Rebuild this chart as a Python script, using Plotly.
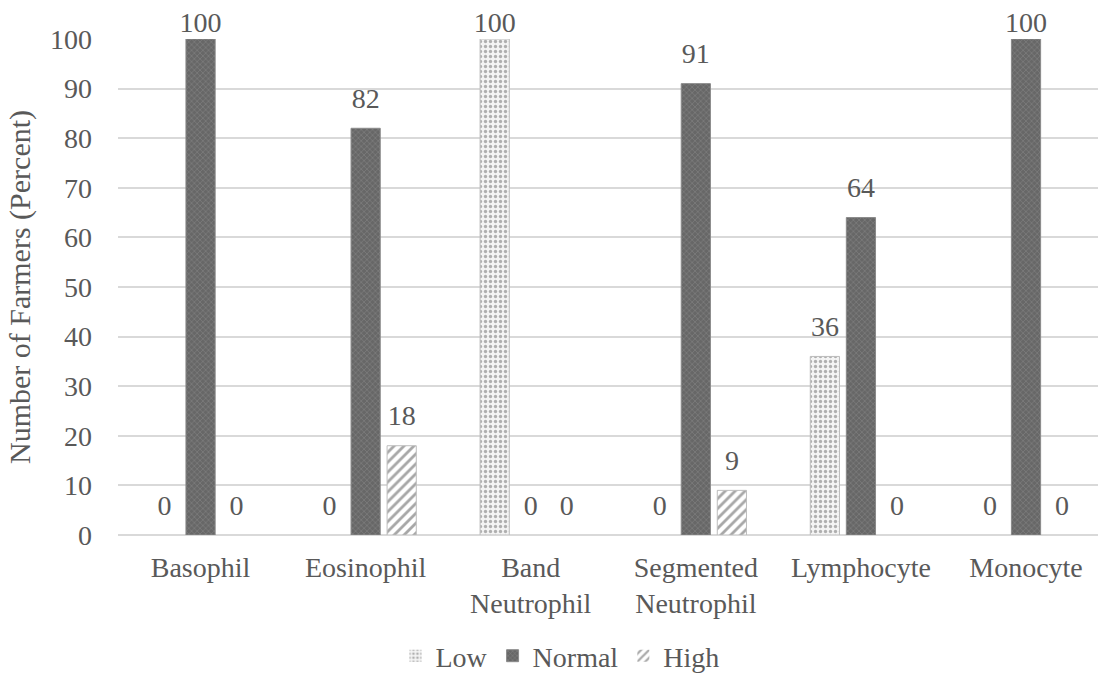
import plotly.graph_objects as go

categories = ["Basophil", "Eosinophil", "Band<br>Neutrophil", "Segmented<br>Neutrophil", "Lymphocyte", "Monocyte"]
low = [0, 0, 100, 0, 36, 0]
normal = [100, 82, 0, 91, 64, 100]
high = [0, 18, 0, 9, 0, 0]
y_ticks = list(range(0, 101, 10))

font_family = "Liberation Serif, Times New Roman, serif"
text_color = "#595959"
font_size = 28
y_max = 100


def edge_widths(values, w=1):
    # no outline on empty bars
    return [w if v > 0 else 0 for v in values]


def label_pad(values):
    # labels at the top of the axis sit tight against the bar
    return [0 if v >= y_max else 20 for v in values]


series = [
    ("Low", low, dict(color="white", line=dict(color="#bdbdbd", width=edge_widths(low)),
                      pattern=dict(shape=".", fgcolor="#6a6a6a", bgcolor="#f4f4f4", size=5, solidity=0.35))),
    ("Normal", normal, dict(color="#6e6e6e", line=dict(color="#8a8a8a", width=edge_widths(normal)),
                            pattern=dict(shape="x", fgcolor="#9c9c9c", bgcolor="#676767", size=4, solidity=0.3))),
    ("High", high, dict(color="white", line=dict(color="#bdbdbd", width=edge_widths(high)),
                        pattern=dict(shape="/", fgcolor="#505050", bgcolor="white", size=7, solidity=0.4))),
]

fig = go.Figure()
for name, vals, marker in series:
    fig.add_trace(go.Bar(name=name, x=categories, y=vals, marker=marker, hoverinfo="x+y"))

# value labels, grouped the same way as the bars
for name, vals, _ in series:
    fig.add_trace(go.Scatter(
        x=categories, y=vals, text=[str(v) for v in vals],
        mode="markers+text", textposition="top center",
        marker=dict(size=label_pad(vals), color="rgba(0,0,0,0)", line=dict(width=0)),
        textfont=dict(family=font_family, size=font_size, color=text_color),
        showlegend=False, hoverinfo="skip", cliponaxis=False,
    ))

gap = 0.345
fig.update_layout(
    width=1098, height=677,
    margin=dict(l=118, r=0, t=39, b=142, autoexpand=False),
    paper_bgcolor="white", plot_bgcolor="white",
    barmode="group", bargap=gap, bargroupgap=0.19,
    scattermode="group", scattergap=gap,
    font=dict(family=font_family, size=font_size, color=text_color),
    showlegend=True,
    legend=dict(orientation="h", x=0.451, xanchor="center",
                yref="container", y=1 - 656 / 677, yanchor="middle",
                font=dict(family=font_family, size=font_size, color=text_color),
                itemwidth=30, traceorder="normal"),
    xaxis=dict(range=[-0.5, 5.436], showgrid=False, showline=True, linecolor="#d9d9d9", linewidth=1,
               ticks="", tickfont=dict(size=font_size), ticklabelstandoff=7, automargin=False),
    yaxis=dict(range=[0, y_max], tickvals=y_ticks, showgrid=True, gridcolor="#d9d9d9",
               gridwidth=1.5, zeroline=True, zerolinecolor="#d9d9d9", showline=False,
               ticks="", tickfont=dict(size=font_size), ticklabelstandoff=25,
               title=dict(text="Number of Farmers (Percent)", font=dict(size=30), standoff=10),
               automargin=False),
)

fig.write_html("out.html")
